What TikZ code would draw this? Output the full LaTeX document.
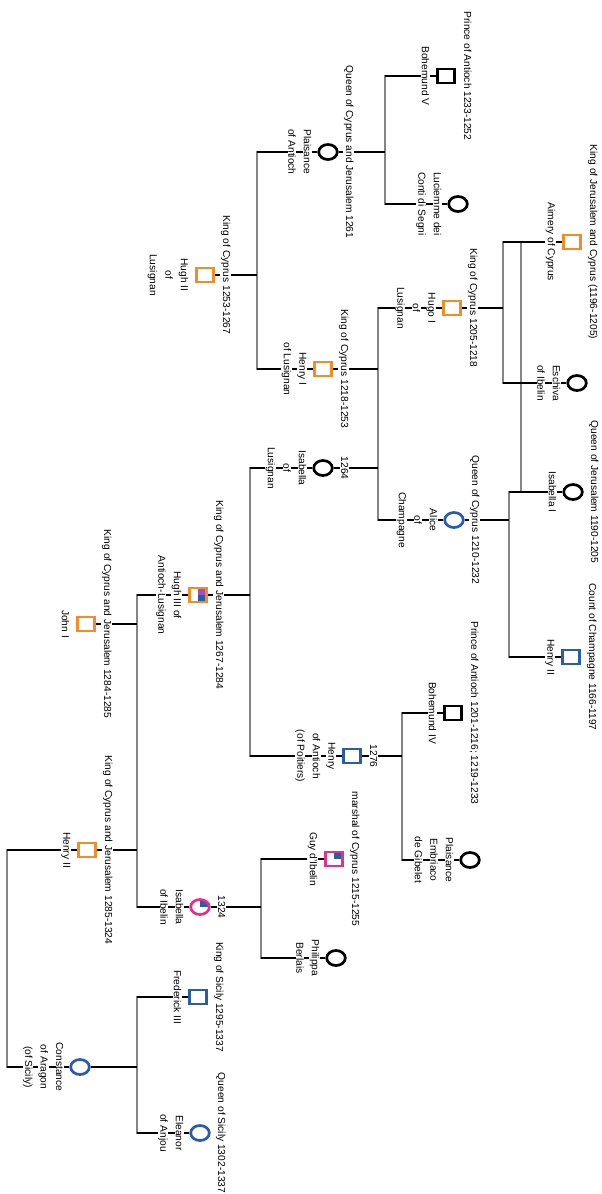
\documentclass[tikz,border=0pt]{standalone}
\usepackage{fontspec}
\setmainfont{Liberation Sans}
\usetikzlibrary{shapes.geometric}
\definecolor{cOr}{HTML}{F28C28}
\definecolor{cBl}{HTML}{2A5CAA}
\definecolor{cPk}{HTML}{E52F8A}
\definecolor{cPu}{HTML}{A050B8}
\definecolor{cBar}{HTML}{858585}
\newcommand\wb[1]{\colorbox{white}{#1}}
\setlength\fboxsep{0.5pt}
\newcommand\lblfont{\fontsize{10.2}{15.5}\selectfont}
\begin{document}
\begin{tikzpicture}[x=1pt,y=-1pt,
  sq/.style={rectangle, draw, line width=2.6pt, fill=white, minimum width=17pt, minimum height=14pt, inner sep=0pt},
  ci/.style={ellipse, draw, line width=2.7pt, fill=white, minimum width=18.6pt, minimum height=15pt, inner sep=0pt},
  ttl/.style={rotate=-90, anchor=base, fill=white, inner sep=0.5pt, font=\lblfont},
  nm/.style={rotate=-90, anchor=north, inner sep=0pt, align=center, font=\lblfont},
  bar/.style={draw=cBar, line width=2.9pt, line cap=rect},
  link/.style={draw=black, line width=2.5pt},
  qtr/.style={path picture={\fill[#1] (path picture bounding box.center) rectangle (path picture bounding box.north east);}}]
\useasboundingbox (0,0) rectangle (602,1194);
% people
\node[sq] (BohV) at (446,76) {};
\node[ci] (Luc) at (458,204) {};
\node[ci] (PlA) at (328,152) {};
\node[sq, draw=cOr] (HughII) at (205,275) {};
\node[sq, draw=cOr] (HenryI) at (323,369) {};
\node[sq, draw=cOr] (Amery) at (572,242) {};
\node[sq, draw=cOr] (HugoI) at (452,308) {};
\node[ci] (Eschiva) at (577,383) {};
\node[ci] (IsaL) at (323,468) {};
\node[ci, draw=cBl] (Alice) at (454,520) {};
\node[ci] (IsaI) at (573,492) {};
\node[sq, draw=cBl] (HenryCh) at (571,657) {};
\node[sq, draw=cOr, path picture={
  \fill[cPu] (path picture bounding box.center) rectangle (path picture bounding box.north east);
  \fill[cBl] (path picture bounding box.center) rectangle (path picture bounding box.south east);}] (HughIII) at (198,595) {};
\node[sq, draw=cOr] (JohnI) at (86,624) {};
\node[sq] (BohIV) at (453,713) {};
\node[sq, draw=cBl] (HenryA) at (352,756) {};
\node[ci] (PlE) at (470,860) {};
\node[sq, draw=cOr] (HenryII) at (87,850) {};
\node[sq, draw=cPk, qtr=cBl] (Guy) at (334,859) {};
\node[ci, draw=cPk, qtr=cBl] (IsaIb) at (200,907) {};
\node[ci] (Phil) at (336,958) {};
\node[sq, draw=cBl] (Fred) at (198,997) {};
\node[ci, draw=cBl] (Const) at (80,1067) {};
\node[ci, draw=cBl] (Elea) at (200,1133) {};
% bar ends
\coordinate (a1) at (385,76);   \coordinate (a2) at (385,204);
\coordinate (b1) at (257,152);  \coordinate (b2) at (257,369);
\coordinate (c1) at (503,242);  \coordinate (c2) at (503,383);
\coordinate (d1) at (521,242);  \coordinate (d2) at (521,492);
\coordinate (e1) at (509,492);  \coordinate (e2) at (509,657);
\coordinate (f1) at (378,308);  \coordinate (f2) at (378,520);
\coordinate (g1) at (250,468);  \coordinate (g2) at (250,756);
\coordinate (h1) at (402,713);  \coordinate (h2) at (402,860);
\coordinate (i1) at (261,859);  \coordinate (i2) at (261,958);
\coordinate (j1) at (137,595);  \coordinate (j2) at (137,907);
\coordinate (k1) at (137,997);  \coordinate (k2) at (137,1133);
\coordinate (l1) at (7,850);    \coordinate (l2) at (7,1067);
% bars
\foreach \p in {a,b,c,d,e,f,g,h,i,j,k,l} \draw[bar] (\p1) -- (\p2);
% links to children bars
\draw[link] (BohV) -- (a1);  \draw[link] (Luc) -- (a2);
\draw[link] (PlA) -- (b1);   \draw[link] (HenryI) -- (b2);
\draw[link] (Amery) -- (c1); \draw[link] (Eschiva) -- (c2);
\draw[link] (IsaI) -- (e1);  \draw[link] (HenryCh) -- (e2);
\draw[link] (HugoI) -- (f1); \draw[link] (Alice) -- (f2);
\draw[link] (IsaL) -- (g1);  \draw[link] (HenryA) -- (g2);
\draw[link] (BohIV) -- (h1); \draw[link] (PlE) -- (h2);
\draw[link] (Guy) -- (i1);   \draw[link] (Phil) -- (i2);
\draw[link] (HughIII) -- (j1); \draw[link] (IsaIb) -- (j2);
\draw[link] (Fred) -- (k1);  \draw[link] (Elea) -- (k2);
\draw[link] (HenryII) -- (l1); \draw[link] (Const) -- (l2);
% links to parent bars
\draw[link] (PlA) -- (PlA -| a1);
\draw[link] (HughII) -- (HughII -| b1);
\draw[link] (HenryI) -- (HenryI -| f1);
\draw[link] (HugoI) -- (HugoI -| c1);
\draw[link] (IsaL) -- (IsaL -| f1);
\draw[link] (Alice) -- (Alice -| e1);
\draw[link] (HughIII) -- (HughIII -| g1);
\draw[link] (JohnI) -- (JohnI -| j1);
\draw[link] (HenryII) -- (HenryII -| j1);
\draw[link] (HenryA) -- (HenryA -| h1);
\draw[link] (IsaIb) -- (IsaIb -| i1);
\draw[link] (Const) -- (Const -| k1);
% titles
\node[ttl] (BohV-t) at ([xshift=18pt]BohV.center) {Prince of Antioch 1233-1252};
\node[ttl] (PlA-t) at ([xshift=18pt]PlA.center) {Queen of Cyprus and Jerusalem 1261};
\node[ttl] (HughII-t) at ([xshift=18pt]HughII.center) {King of Cyprus 1253-1267};
\node[ttl] (HenryI-t) at ([xshift=18pt]HenryI.center) {King of Cyprus 1218-1253};
\node[ttl] (Amery-t) at ([xshift=18pt]Amery.center) {King of Jerusalem and Cyprus (1196-1205)};
\node[ttl] (HugoI-t) at ([xshift=18pt]HugoI.center) {King of Cyprus 1205-1218};
\node[ttl] (IsaL-t) at ([xshift=18pt]IsaL.center) {1264};
\node[ttl] (Alice-t) at ([xshift=18pt]Alice.center) {Queen of Cyprus 1210-1232};
\node[ttl] (IsaI-t) at ([xshift=18pt]IsaI.center) {Queen of Jerusalem 1190-1205};
\node[ttl] (HenryCh-t) at ([xshift=18pt]HenryCh.center) {Count of Champagne 1166-1197};
\node[ttl] (HughIII-t) at ([xshift=18pt]HughIII.center) {King of Cyprus and Jerusalem 1267-1284};
\node[ttl] (JohnI-t) at ([xshift=18pt]JohnI.center) {King of Cyprus and Jerusalem 1284-1285};
\node[ttl] (BohIV-t) at ([xshift=18pt]BohIV.center) {Prince of Antioch 1201-1216; 1219-1233};
\node[ttl] (HenryA-t) at ([xshift=18pt]HenryA.center) {1276};
\node[ttl] (HenryII-t) at ([xshift=18pt]HenryII.center) {King of Cyprus and Jerusalem 1285-1324};
\node[ttl] (Guy-t) at ([xshift=18pt]Guy.center) {marshal of Cyprus 1215-1255};
\node[ttl] (IsaIb-t) at ([xshift=18pt]IsaIb.center) {1324};
\node[ttl] (Fred-t) at ([xshift=18pt]Fred.center) {King of Sicily 1295-1337};
\node[ttl] (Elea-t) at ([xshift=18pt]Elea.center) {Queen of Sicily 1302-1337};
% names
\node[nm] (BohV-n) at ([xshift=-16pt]BohV.center) {\wb{Bohemund V}};
\node[nm] (Luc-n) at ([xshift=-16pt]Luc.center) {\wb{Luciemme dei}\\\wb{Conti di Segni}};
\node[nm] (PlA-n) at ([xshift=-16pt]PlA.center) {\wb{Plaisance}\\\wb{of Antioch}};
\node[nm] (HughII-n) at ([xshift=-16pt]HughII.center) {\wb{Hugh II}\\\wb{of}\\\wb{Lusignan}};
\node[nm] (HenryI-n) at ([xshift=-16pt]HenryI.center) {\wb{Henry I}\\\wb{of Lusignan}};
\node[nm] (Amery-n) at ([xshift=-16pt]Amery.center) {\wb{Aimery of Cyprus}};
\node[nm] (HugoI-n) at ([xshift=-16pt]HugoI.center) {\wb{Hugo I}\\\wb{of}\\\wb{Lusignan}};
\node[nm] (Eschiva-n) at ([xshift=-16pt]Eschiva.center) {\wb{Eschiva}\\\wb{of Ibelin}};
\node[nm] (IsaL-n) at ([xshift=-16pt]IsaL.center) {\wb{Isabella}\\\wb{of}\\\wb{Lusignan}};
\node[nm] (Alice-n) at ([xshift=-16pt]Alice.center) {\wb{Alice}\\\wb{of}\\\wb{Champagne}};
\node[nm] (IsaI-n) at ([xshift=-16pt]IsaI.center) {\wb{Isabella I}};
\node[nm] (HenryCh-n) at ([xshift=-16pt]HenryCh.center) {\wb{Henry II}};
\node[nm] (HughIII-n) at ([xshift=-16pt]HughIII.center) {\wb{Hugh III of}\\\wb{Antioch-Lusignan}};
\node[nm] (JohnI-n) at ([xshift=-16pt]JohnI.center) {\wb{John I}};
\node[nm] (BohIV-n) at ([xshift=-16pt]BohIV.center) {\wb{Bohemund IV}};
\node[nm] (HenryA-n) at ([xshift=-16pt]HenryA.center) {\wb{Henry}\\\wb{of Antioch}\\\wb{(of Poitiers)}};
\node[nm] (PlE-n) at ([xshift=-16pt]PlE.center) {\wb{Plaisance}\\\wb{Embriaco}\\\wb{de Gibelet}};
\node[nm] (HenryII-n) at ([xshift=-16pt]HenryII.center) {\wb{Henry II}};
\node[nm] (Guy-n) at ([xshift=-16pt]Guy.center) {\wb{Guy d'Ibelin}};
\node[nm] (IsaIb-n) at ([xshift=-16pt]IsaIb.center) {\wb{Isabella}\\\wb{of Ibelin}};
\node[nm] (Phil-n) at ([xshift=-16pt]Phil.center) {\wb{Philippa}\\\wb{Berlais}};
\node[nm] (Fred-n) at ([xshift=-16pt]Fred.center) {\wb{Frederick III}};
\node[nm] (Const-n) at ([xshift=-16pt]Const.center) {\wb{Constance}\\\wb{of Aragon}\\\wb{(of Sicily)}};
\node[nm] (Elea-n) at ([xshift=-16pt]Elea.center) {\wb{Eleanor}\\\wb{of Anjou}};
\end{tikzpicture}
\end{document}
